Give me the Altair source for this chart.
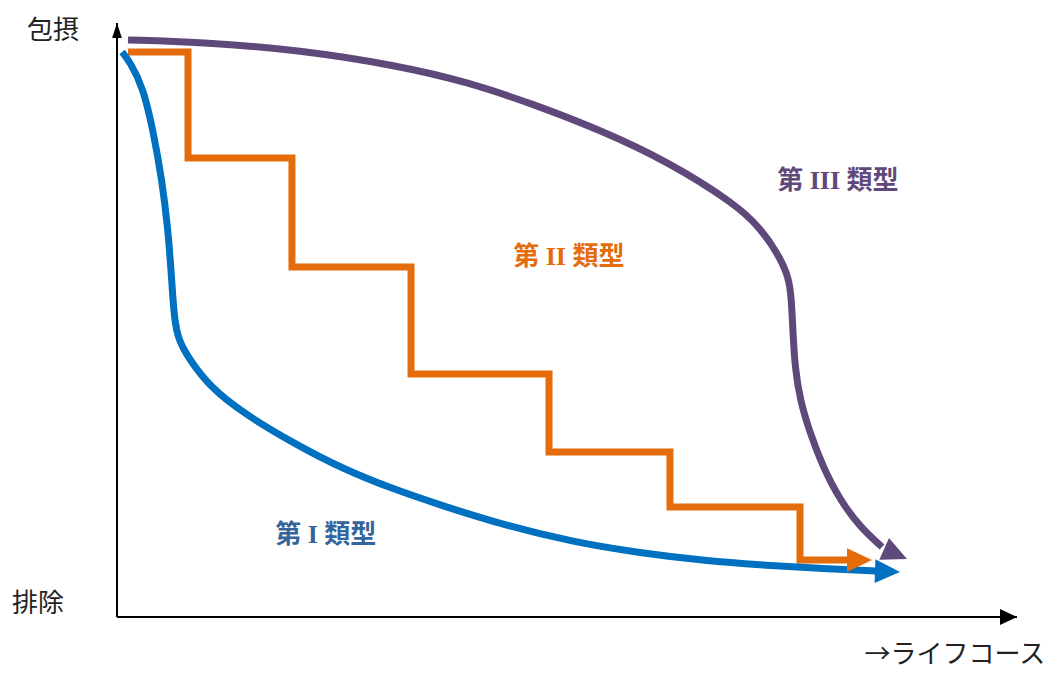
import altair as alt
import pandas as pd

# ---- data (x: life course 0-100, y: inclusion 0-100) ----
type1_x = [0.56, 1.44, 2.89, 4.0, 5.0, 5.67, 6.0, 6.22, 6.44, 6.78, 7.33, 8.11, 10.33, 14.0,
           19.56, 25.11, 30.67, 35.89, 43.33, 50.67, 58.11, 65.56, 71.44, 77.33, 84.33, 87.0]
type1_y = [94.17, 92.5, 88.33, 81.17, 72.83, 64.5, 57.83, 52.83, 49.17, 46.67, 44.83, 42.83, 38.33, 34.0,
           29.0, 24.67, 21.33, 18.67, 15.17, 12.5, 10.67, 9.33, 8.67, 8.17, 7.67, 7.5]

type2_x = [1.22, 7.89, 19.44, 32.67, 48.0, 61.44, 75.89, 81.44, 83.89]
type2_y = [94.17, 76.5, 58.33, 40.5, 27.5, 18.33, 9.5, 9.5, 9.5]

type3_x = [1.22, 9.22, 20.33, 31.44, 38.89, 46.22, 53.67, 61.11, 68.89, 71.44, 73.33, 74.67,
           74.94, 75.11, 75.33, 75.89, 77.0, 78.44, 80.33, 82.56, 85.0, 87.78]
type3_y = [96.17, 95.83, 94.5, 91.83, 89.17, 85.5, 81.17, 76.0, 68.67, 64.83, 60.83, 56.67,
           52.83, 47.33, 41.67, 36.17, 30.67, 25.0, 19.5, 15.0, 11.67, 9.67]

series_labels = ["第 I 類型", "第 II 類型", "第 III 類型"]
series_label_x = [23.2, 50.2, 80.1]
series_label_y = [13.67, 60.0, 72.67]

axis_words = ["包摂", "排除", "→ライフコース"]
axis_words_x = [-7.11, -8.78, 93.1]
axis_words_y = [97.6, 2.17, -6.33]

axis_end_x = 100
axis_end_y = 99

# ---- styling ----
COL = {"t1": "#0070C0", "t2": "#E46C0A", "t3": "#5F497A"}
LABEL_COL = ["#35659B", "#E46C0A", "#5F497A"]
ANGLE = {"t1": 2, "t2": 0, "t3": 24}
LW = 7
ARROW = "M0,0L-2,-0.95L-2,0.95Z"

X = alt.Scale(domain=[0, 100], nice=False, zero=False)
Y = alt.Scale(domain=[0, 100], nice=False, zero=False)


def line_df(xs, ys):
    return pd.DataFrame({"i": range(len(xs) - 1), "x": xs[:-1], "y": ys[:-1]})


def line_layer(xs, ys, color, interp):
    return alt.Chart(line_df(xs, ys)).mark_line(
        color=color, strokeWidth=LW, interpolate=interp, strokeCap="butt", strokeJoin="miter"
    ).encode(
        x=alt.X("x:Q", scale=X, axis=None),
        y=alt.Y("y:Q", scale=Y, axis=None),
        order="i:Q",
    )


def head_layer(xs, ys, color, angle):
    df = pd.DataFrame({"x": [xs[-1]], "y": [ys[-1]]})
    return alt.Chart(df).mark_point(
        shape=ARROW, size=625, filled=True, opacity=1, color=color, strokeWidth=0, angle=angle
    ).encode(x=alt.X("x:Q", scale=X, axis=None), y=alt.Y("y:Q", scale=Y, axis=None))


axes_df = pd.DataFrame({"x": [0, 0], "y": [0, 0], "x2": [axis_end_x, 0], "y2": [0, axis_end_y]})
axes = alt.Chart(axes_df).mark_rule(color="black", strokeWidth=2).encode(
    x=alt.X("x:Q", scale=X, axis=None), y=alt.Y("y:Q", scale=Y, axis=None), x2="x2:Q", y2="y2:Q"
)
xhead = alt.Chart(pd.DataFrame({"x": [axis_end_x], "y": [0]})).mark_point(
    shape=ARROW, size=289, filled=True, opacity=1, color="black", strokeWidth=0, angle=0
).encode(x=alt.X("x:Q", scale=X, axis=None), y=alt.Y("y:Q", scale=Y, axis=None))
yhead = alt.Chart(pd.DataFrame({"x": [0], "y": [axis_end_y]})).mark_point(
    shape="M0,0L-2,-0.65L-2,0.65Z", size=225, filled=True, opacity=1, color="black",
    strokeWidth=0, angle=270
).encode(x=alt.X("x:Q", scale=X, axis=None), y=alt.Y("y:Q", scale=Y, axis=None))

lab_df = pd.DataFrame({"t": series_labels, "x": series_label_x, "y": series_label_y, "c": LABEL_COL})
labels = alt.Chart(lab_df).mark_text(
    font="Liberation Serif, Noto Sans CJK JP", fontSize=26, fontWeight="bold",
    align="center", baseline="middle"
).encode(
    x=alt.X("x:Q", scale=X, axis=None), y=alt.Y("y:Q", scale=Y, axis=None),
    text="t:N", color=alt.Color("c:N", scale=None),
)

aw_df = pd.DataFrame({"t": axis_words, "x": axis_words_x, "y": axis_words_y})
axis_labels = alt.Chart(aw_df).mark_text(
    font="Noto Sans CJK JP", fontSize=26, color="#222222", align="center", baseline="middle"
).encode(x=alt.X("x:Q", scale=X, axis=None), y=alt.Y("y:Q", scale=Y, axis=None), text="t:N")

chart = alt.layer(
    axes, xhead, yhead,
    line_layer(type3_x, type3_y, COL["t3"], "basis"),
    line_layer(type2_x, type2_y, COL["t2"], "step-after"),
    line_layer(type1_x, type1_y, COL["t1"], "basis"),
    head_layer(type3_x, type3_y, COL["t3"], ANGLE["t3"]),
    head_layer(type2_x, type2_y, COL["t2"], ANGLE["t2"]),
    head_layer(type1_x, type1_y, COL["t1"], ANGLE["t1"]),
    labels, axis_labels,
).properties(
    width=900, height=600,
    padding={"left": 109, "top": 9, "right": 32, "bottom": 58},
    autosize="none",
).configure_view(stroke=None)

chart.save("out.html", embed_options={"renderer": "svg", "actions": False})
